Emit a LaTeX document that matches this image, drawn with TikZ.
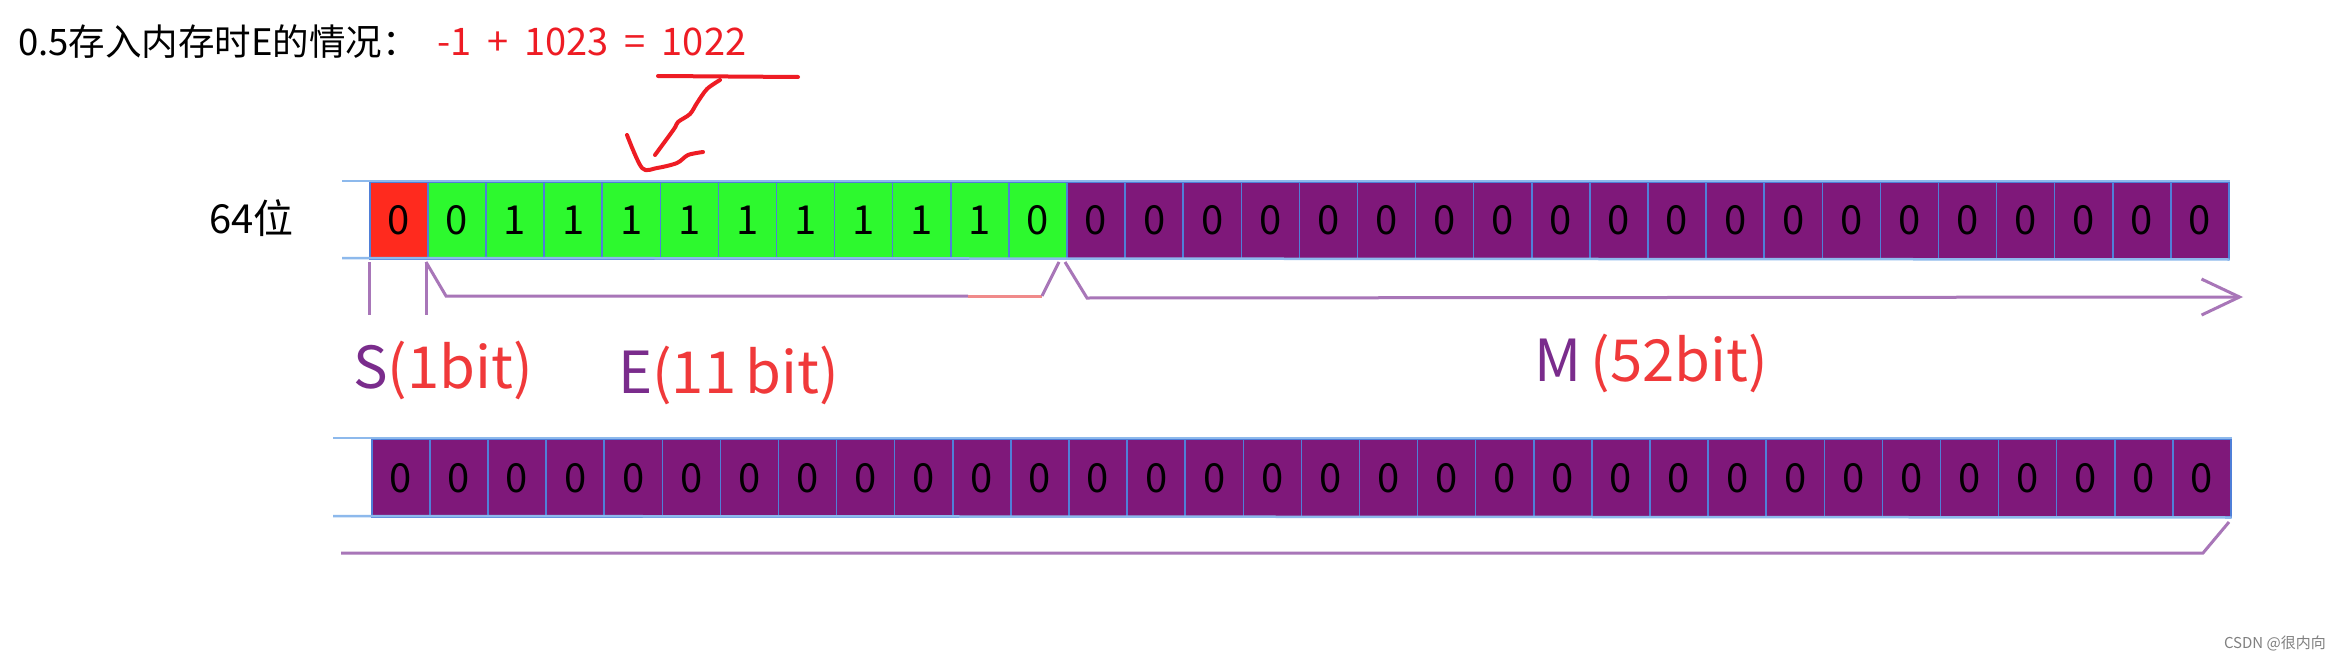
\documentclass[tikz,border=0pt]{standalone}
\usepackage{fontspec}
\setmainfont{Noto Sans CJK SC}
\usetikzlibrary{arrows.meta}
\definecolor{sred}{HTML}{FF2A1E}
\definecolor{egreen}{HTML}{2DF92E}
\definecolor{mpurple}{HTML}{7F187A}
\definecolor{cellblue}{HTML}{4F7FD8}
\definecolor{rowblue}{HTML}{8DB9EC}
\definecolor{brk}{HTML}{A876B8}
\definecolor{brkred}{HTML}{F08A8A}
\definecolor{lblpurple}{HTML}{7A2C8C}
\definecolor{lblred}{HTML}{F0393A}
\definecolor{annred}{HTML}{EE1C24}
\newcommand{\wsp}{\hspace{0.42em}}
\begin{document}
\begin{tikzpicture}[x=1pt,y=-1pt,
  cell/.style={draw=cellblue, line width=1.5pt, minimum width=58.1pt, minimum height=77pt,
    inner sep=0pt, font=\fontsize{40}{40}\selectfont, text=black, anchor=north west},
  rowline/.style={draw=rowblue, line width=2.5pt},
  bracket/.style={draw=brk, line width=3pt},
  lbl/.style={inner sep=0pt, anchor=base west, font=\fontsize{58}{58}\selectfont},
  hand/.style={draw=annred, line width=4pt, line cap=round, line join=round}]
\useasboundingbox[fill=white] (0,0) rectangle (2336,658);

% title
\node[inner sep=0pt, anchor=base west, font=\fontsize{36.5}{36.5}\selectfont] (title) at (18,56) {0.5存入内存时E的情况：};
\node[inner sep=0pt, anchor=base west, font=\fontsize{38}{38}\selectfont, text=annred] (formula) at (437,56) {-1\wsp+\wsp1023\wsp=\wsp1022};
\node[inner sep=0pt, anchor=base west, font=\fontsize{40}{40}\selectfont] (bits) at (209,233) {64位};

% top row
\node[cell, fill=sred] (t0) at (369,181) {0};
\foreach \d [count=\k] in {0,1,1,1,1,1,1,1,1,1,0}
  \node[cell, fill=egreen] (t\k) at ({369+58.1*\k},181) {\d};
\foreach \k in {12,...,31}
  \node[cell, fill=mpurple] (t\k) at ({369+58.1*\k},181) {0};
\coordinate (tl1) at (342,181);
\coordinate (tl2) at (342,258);
\draw[rowline] (tl1) -- (t31.north east);
\draw[rowline] (tl2) -- (t31.south east);

% bottom row
\foreach \k in {0,...,31}
  \node[cell, fill=mpurple, minimum height=78pt] (b\k) at ({371+58.1*\k},438) {0};
\coordinate (bl1) at (333,438);
\coordinate (bl2) at (333,516);
\draw[rowline] (bl1) -- (b31.north east);
\draw[rowline] (bl2) -- (b31.south east);

% brackets
\coordinate (s1a) at (369,262); \coordinate (s1b) at (369,315);
\coordinate (s2a) at (426,262); \coordinate (s2b) at (426,315);
\draw[bracket] (s1a) -- (s1b);
\draw[bracket] (s2a) -- (s2b);
\coordinate (e1) at (446,296); \coordinate (e2) at (968,296);
\coordinate (e3) at (1042,296); \coordinate (e4) at (1059,262);
\draw[bracket] (s2a) -- (e1) -- (e2);
\draw[draw=brkred, line width=3pt] (e2) -- (e3);
\draw[bracket] (e3) -- (e4);
\coordinate (m1) at (1065,262); \coordinate (m2) at (1087,298); \coordinate (m3) at (2243,297);
\draw[bracket, -{Straight Barb[length=38pt, width=36pt, line width=3pt]}] (m1) -- (m2) -- (m3);
\coordinate (w1) at (341,553); \coordinate (w2) at (2203,553); \coordinate (w3) at (2229,522);
\draw[bracket] (w1) -- (w2) -- (w3);

% labels
\node[lbl] (slbl) at (353,388) {\textcolor{lblpurple}{S}\textcolor{lblred}{(1bit)}};
\node[lbl] (elbl) at (618,393) {\textcolor{lblpurple}{E}\textcolor{lblred}{(11\,bit)}};
\node[lbl] (mlbl) at (1534,381) {\textcolor{lblpurple}{M}\,\textcolor{lblred}{(52bit)}};

% hand-drawn annotation
\draw[hand] (658,76) -- (798,77);
\draw[hand] plot[smooth] coordinates {(720,80) (707,89) (697,103) (690,114) (678,122) (674,129) (655,155)};
\draw[hand] plot[smooth] coordinates {(627,135) (642,168) (657,168) (677,163) (688,155) (703,152)};

% watermark
\node[inner sep=0pt, anchor=base east, font=\fontsize{15}{15}\selectfont, text=gray] (wm) at (2326,648) {CSDN @很内向};
\end{tikzpicture}
\end{document}
